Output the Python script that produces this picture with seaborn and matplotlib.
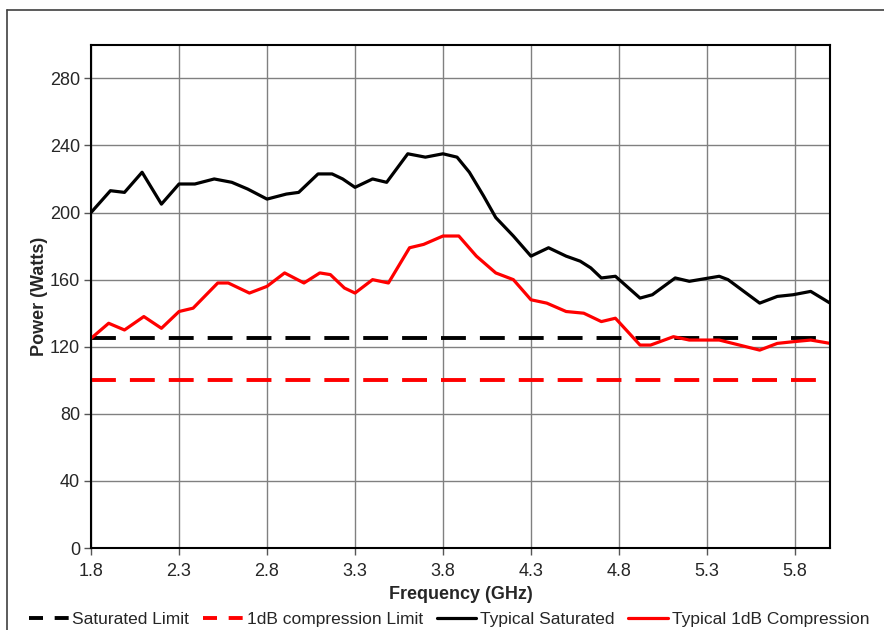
import matplotlib.pyplot as plt
import matplotlib.lines as mlines
import pandas as pd
import seaborn as sns

# Frequency (GHz) and power (Watts)
sat_freq = [1.80, 1.91, 1.99, 2.09, 2.20, 2.30, 2.39, 2.50, 2.60, 2.69,
            2.80, 2.91, 2.98, 3.09, 3.17, 3.23, 3.30, 3.40, 3.48, 3.60,
            3.70, 3.80, 3.88, 3.95, 4.03, 4.10, 4.20, 4.30, 4.40, 4.50,
            4.58, 4.64, 4.70, 4.78, 4.92, 4.99, 5.12, 5.20, 5.37, 5.42,
            5.60, 5.70, 5.79, 5.89, 6.00]
sat_power = [200, 213, 212, 224, 205, 217, 217, 220, 218, 214,
             208, 211, 212, 223, 223, 220, 215, 220, 218, 235,
             233, 235, 233, 224, 210, 197, 186, 174, 179, 174,
             171, 167, 161, 162, 149, 151, 161, 159, 162, 160,
             146, 150, 151, 153, 146]

cmp_freq = [1.80, 1.90, 1.99, 2.10, 2.20, 2.30, 2.38, 2.52, 2.58, 2.70,
            2.80, 2.90, 3.01, 3.10, 3.16, 3.24, 3.30, 3.40, 3.49, 3.61,
            3.69, 3.80, 3.89, 3.99, 4.10, 4.20, 4.30, 4.39, 4.50, 4.60,
            4.70, 4.78, 4.92, 4.98, 5.11, 5.20, 5.37, 5.60, 5.70, 5.79,
            5.89, 6.00]
cmp_power = [125, 134, 130, 138, 131, 141, 143, 158, 158, 152,
             156, 164, 158, 164, 163, 155, 152, 160, 158, 179,
             181, 186, 186, 174, 164, 160, 148, 146, 141, 140,
             135, 137, 121, 121, 126, 124, 124, 118, 122, 123,
             124, 122]

limit_freq = [1.8, 6.0]
sat_limit = [125, 125]
cmp_limit = [100, 100]

x_ticks = [1.8, 2.3, 2.8, 3.3, 3.8, 4.3, 4.8, 5.3, 5.8]
y_ticks = [0, 40, 80, 120, 160, 200, 240, 280]

sns.set_style("white")
plt.rcParams['font.family'] = ['Liberation Sans', 'DejaVu Sans']

fig = plt.figure(figsize=(8.84, 6.3), dpi=100)
ax = fig.add_axes([0.103, 0.130, 0.836, 0.799])

# Limits (dashed)
sns.lineplot(x=limit_freq, y=sat_limit, ax=ax, color='black', lw=2.8,
             dashes=False, label='Saturated Limit')
sns.lineplot(x=limit_freq, y=cmp_limit, ax=ax, color='#ff0000', lw=2.8,
             dashes=False, label='1dB compression Limit')
# Measured curves
sns.lineplot(x=sat_freq, y=sat_power, ax=ax, color='black', lw=2.3,
             label='Typical Saturated', sort=True)
sns.lineplot(x=cmp_freq, y=cmp_power, ax=ax, color='#ff0000', lw=2.3,
             label='Typical 1dB Compression', sort=True)

for ln in ax.lines[:2]:
    ln.set_dashes([6.4, 3.6])
for ln in ax.lines:
    ln.set_solid_joinstyle('round')
    ln.set_solid_capstyle('butt')

ax.set_xlim(1.8, 6.0)
ax.set_ylim(0, 300)
ax.set_xticks(x_ticks)
ax.set_xticklabels([f'{t:.1f}' for t in x_ticks])
ax.set_yticks(y_ticks)
ax.grid(True, color='#808080', lw=1)
ax.tick_params(axis='both', labelsize=13, direction='out', length=5,
               width=1, color='#555555', left=True, bottom=True)
ax.tick_params(axis='x', pad=6)
ax.tick_params(axis='y', pad=3)
for sp in ax.spines.values():
    sp.set_color('black')
    sp.set_linewidth(1.5)

ax.set_xlabel('Frequency (GHz)', fontsize=13, fontweight='bold', labelpad=4)
ax.set_ylabel('Power (Watts)', fontsize=13, fontweight='bold', labelpad=1)

# legend below the axes, with shorter dashes in the key
handles, labels = ax.get_legend_handles_labels()
ax.get_legend().remove()
key = []
for h in handles:
    proxy = mlines.Line2D([], [], color=h.get_color(), lw=h.get_linewidth())
    key.append(proxy)
key[0].set_dashes([3.6, 3.0])
key[1].set_dashes([3.6, 3.0])
fig.legend(key, labels, loc='center', bbox_to_anchor=(0.508, 0.017), ncol=4,
           frameon=False, fontsize=12.5, handlelength=2.3, handletextpad=0.2,
           columnspacing=0.8)

# outer chart border (top and left edges)
fig.add_artist(mlines.Line2D([0.008, 1.0], [0.984, 0.984], color='#404040', lw=1.2))
fig.add_artist(mlines.Line2D([0.008, 0.008], [0.0, 0.984], color='#404040', lw=1.2))

fig.savefig('out.png', dpi=100)
